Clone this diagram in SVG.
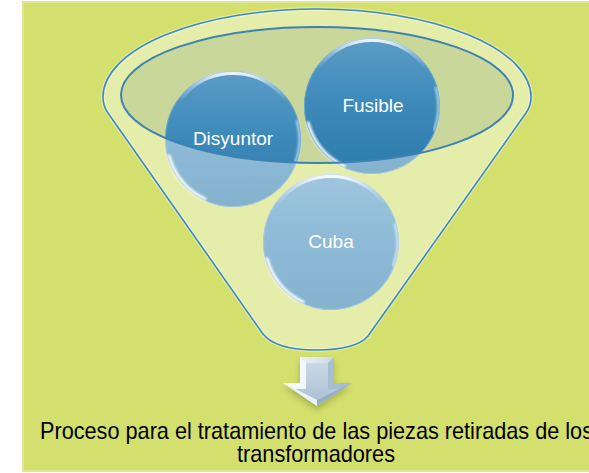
<svg xmlns="http://www.w3.org/2000/svg" xmlns:xlink="http://www.w3.org/1999/xlink" width="589" height="473" viewBox="0 0 589 473">
<style>
.lbl{font-family:"Liberation Sans",Arial,sans-serif;font-size:19px;fill:#ffffff;text-anchor:middle}
.cap{font-family:"Liberation Sans",Arial,sans-serif;font-size:24px;fill:#000000}
</style>
<defs>
<linearGradient id="sphereFill" x1="0" y1="0" x2="0" y2="1">
<stop offset="0" stop-color="#5C9CC7"/>
<stop offset="0.45" stop-color="#3E8BBB"/>
<stop offset="1" stop-color="#2D7BAB"/>
</linearGradient>
<linearGradient id="rimTop" x1="0" y1="0" x2="0" y2="1">
<stop offset="0" stop-color="#ffffff" stop-opacity="0.9"/>
<stop offset="0.1" stop-color="#ffffff" stop-opacity="0.35"/>
<stop offset="0.22" stop-color="#ffffff" stop-opacity="0"/>
<stop offset="1" stop-color="#ffffff" stop-opacity="0"/>
</linearGradient>
<linearGradient id="arrowOuter" x1="0" y1="0" x2="1" y2="0">
<stop offset="0" stop-color="#F4F8FC"/>
<stop offset="0.5" stop-color="#DCE6F0"/>
<stop offset="1" stop-color="#B4C7DA"/>
</linearGradient>
<linearGradient id="arrowInner" x1="0" y1="0" x2="0" y2="1">
<stop offset="0" stop-color="#C9D8E6"/>
<stop offset="1" stop-color="#AEC2D6"/>
</linearGradient>
<filter id="soft" x="-20%" y="-20%" width="140%" height="140%">
<feGaussianBlur stdDeviation="0.8"/>
</filter>
<filter id="shadow" x="-30%" y="-30%" width="160%" height="160%">
<feGaussianBlur stdDeviation="3"/>
</filter>
<g id="sphere">
<circle cx="0" cy="0" r="68" fill="url(#sphereFill)"/>
<circle cx="0" cy="0" r="66" fill="none" stroke="url(#rimTop)" stroke-width="4"/>
<path d="M -64,17 A 66 66 0 0 0 -28,60" fill="none" stroke="#ffffff" stroke-width="3.5" stroke-linecap="round" opacity="0.9" filter="url(#soft)"/>
<path d="M 64,-18 A 66 66 0 0 1 62,24" fill="none" stroke="#CBE8F8" stroke-width="2.5" stroke-linecap="round" opacity="0.8" filter="url(#soft)"/>
<circle cx="0" cy="0" r="67.5" fill="none" stroke="#7FB6D8" stroke-width="1" opacity="0.6"/>
</g>
</defs>

<rect x="0" y="0" width="589" height="473" fill="#ffffff"/>
<rect x="23" y="2" width="570" height="469" fill="#D3E06E" stroke="#DEE791" stroke-width="2"/>

<g id="funnel-back">
<path d="M 121,95 A 196 68 0 1 0 513,95 A 196 68 0 1 0 121,95 Z" fill="#C9D79A"/>
</g>

<g id="node-disyuntor">
<use xlink:href="#sphere" href="#sphere" x="233" y="139"/>
</g>
<g id="node-fusible">
<use xlink:href="#sphere" href="#sphere" x="372" y="106"/>
</g>
<g id="node-cuba">
<use xlink:href="#sphere" href="#sphere" x="331" y="242"/>
</g>

<g id="funnel-front">
<path d="M 263,334 L 108,113 Q 103,106 103,97 A 214 88 0 0 1 531,97 Q 531,106 526,113 L 368,336 Q 356,350 316,350 Q 276,350 263,334 Z M 121,95 A 196 68 0 1 0 513,95 A 196 68 0 1 0 121,95 Z" fill="#ffffff" fill-opacity="0.42" fill-rule="evenodd"/>
<path d="M 263,334 L 108,113 Q 103,106 103,97 A 214 88 0 0 1 531,97 Q 531,106 526,113 L 368,336 Q 356,350 316,350 Q 276,350 263,334 Z" fill="none" stroke="#ffffff" stroke-width="4" stroke-opacity="0.35"/>
<path d="M 263,334 L 108,113 Q 103,106 103,97 A 214 88 0 0 1 531,97 Q 531,106 526,113 L 368,336 Q 356,350 316,350 Q 276,350 263,334 Z" fill="none" stroke="#3C8AC0" stroke-width="1.6"/>
<path d="M 121,95 A 196 68 0 1 0 513,95 A 196 68 0 1 0 121,95 Z" fill="none" stroke="#3D82B0" stroke-width="2"/>
</g>

<g id="labels">
<text class="lbl" x="233" y="145">Disyuntor</text>
<text class="lbl" x="373" y="112">Fusible</text>
<text class="lbl" x="331" y="248">Cuba</text>
</g>

<g id="connectors">
<polygon points="300,361 334,361 334,387 351,387 317,410 283,387 300,387" fill="#6E7A2A" opacity="0.45" filter="url(#shadow)"/>
<polygon points="300,357 334,357 334,383 352,383 317,406 283,383 300,383" fill="url(#arrowOuter)"/>
<polygon points="306,363 328,363 328,389 339,389 317,400 295,389 306,389" fill="url(#arrowInner)"/>
<polygon points="300,357 306,363 306,389 295,389 283,383 300,383" fill="#F6F9FC" opacity="0.85"/>
<polygon points="334,357 328,363 328,389 339,389 352,383 334,383" fill="#A4B9CE" opacity="0.9"/>
<polygon points="283,383 295,389 317,400 317,406" fill="#E9F0F7"/>
<polygon points="352,383 339,389 317,400 317,406" fill="#98AEC4"/>
</g>

<g id="caption">
<text class="cap" x="40" y="439" textLength="553" lengthAdjust="spacingAndGlyphs">Proceso para el tratamiento de las piezas retiradas de los</text>
<text class="cap" x="237" y="462" textLength="158" lengthAdjust="spacingAndGlyphs">transformadores</text>
</g>
</svg>
